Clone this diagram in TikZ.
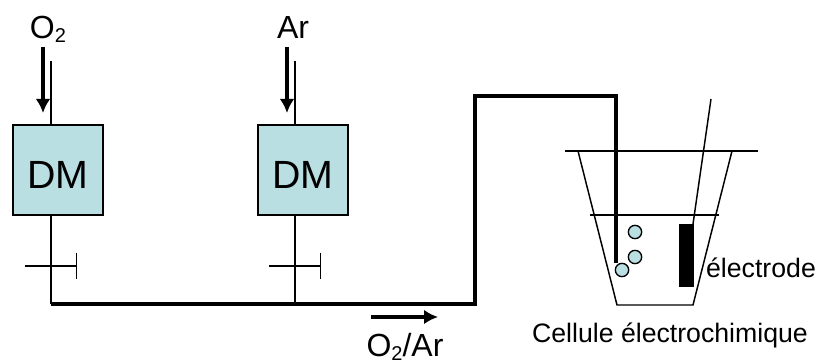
\documentclass[tikz,border=0pt]{standalone}
\usepackage{fontspec}
\setmainfont{Liberation Sans}
\usetikzlibrary{positioning,arrows.meta}

\definecolor{dmfill}{HTML}{B9DFE2}
\newcommand{\subtwo}{\raisebox{-0.25ex}{\fontsize{15}{15}\selectfont 2}}

\begin{document}
\begin{tikzpicture}[
		x=0.75pt,
		y=-0.75pt,
		>={Latex[length=10.5pt,width=11pt]},
		dmbox/.style={
			draw,
			fill=dmfill,
			line width=1.1pt,
			minimum width=67.5pt,
			minimum height=67.5pt,
			inner sep=0pt,
			text height=28.5pt,
			text depth=0pt,
			font=\fontsize{29.5}{34}\selectfont
		},
		gaslabel/.style={
			inner sep=0pt,
			font=\fontsize{24}{28}\selectfont
		},
		celllabel/.style={
			inner sep=0pt,
			font=\fontsize{20}{24}\selectfont
		},
		pipe/.style={line width=1.1pt},
		mainpipe/.style={line width=2.5pt},
		flow/.style={->,line width=2.5pt},
		bubble/.style={
			draw,
			circle,
			fill=dmfill,
			line width=1pt,
			minimum size=10pt,
			inner sep=0pt
		}
		]
		\useasboundingbox (0,0) rectangle (817,363);
		
		%--------------------------------------------------
		% Nodes
		%--------------------------------------------------
		
		\node (dmO) [dmbox] at (58,170) {DM};
		
		\node (dmAr) [dmbox, right=115pt of dmO] {DM};
		
		\node (labelO) [gaslabel] at (48,29) {O\subtwo};
		
		\node (labelAr) [gaslabel] at (293,27) {Ar};
		
		\node (labelMix) [gaslabel] at (405,347) {O\subtwo/Ar};
		
		\node (labelElec) [celllabel] at (761,268) {électrode};
		
		\node (labelCell) [celllabel] at (670,335) {Cellule électrochimique};
		
		\node (electrode) [draw=black, fill=black, inner sep=0pt, minimum width=10.5pt, minimum height=46.5pt] at (686.5,255.5) {};
		
		%--------------------------------------------------
		% Coordinates
		%--------------------------------------------------
		
		\coordinate (inO) at (51,61);
		\coordinate (inAr) at (295,61);
		\coordinate (busO) at (51,304);
		\coordinate (busAr) at (295,304);
		\coordinate (riseB) at (475,304);
		\coordinate (riseT) at (475,96);
		\coordinate (dropT) at (616,96);
		\coordinate (dropB) at (616,263);
		
		\coordinate (valveOl) at (25,266);
		\coordinate (valveOr) at (77,266);
		\coordinate (valveArl) at (269,266);
		\coordinate (valveArr) at (321,266);
		
		\coordinate (arrowOa) at (43,47);
		\coordinate (arrowOb) at (43,113);
		\coordinate (arrowAra) at (287,47);
		\coordinate (arrowArb) at (287,113);
		\coordinate (arrowMixa) at (371,317);
		\coordinate (arrowMixb) at (438,317);
		
		\coordinate (rimL) at (565,151);
		\coordinate (rimR) at (758,151);
		\coordinate (wallLt) at (578,151);
		\coordinate (wallLb) at (617,305);
		\coordinate (wallRb) at (693,305);
		\coordinate (wallRt) at (732,151);
		\coordinate (liquidL) at (590,215);
		\coordinate (liquidR) at (719,215);
		\coordinate (wireT) at (711,99);
		\coordinate (wireB) at (693,224);
		
		%--------------------------------------------------
		% Connections
		%--------------------------------------------------
		
		\draw[pipe] (inO) -- (inO |- dmO.north);
		
		\draw[pipe] (inAr) -- (inAr |- dmAr.north);
		
		\draw[pipe] (busO |- dmO.south) -- (busO);
		
		\draw[pipe] (busAr |- dmAr.south) -- (busAr);
		
		\draw[pipe,-{Bar[width=19.5pt,line width=1.1pt]}] (valveOl) -- (valveOr);
		
		\draw[pipe,-{Bar[width=19.5pt,line width=1.1pt]}] (valveArl) -- (valveArr);
		
		\draw[mainpipe,line join=miter] (busO) -- (riseB) -- (riseT) -- (dropT) -- (dropB);
		
		\draw[flow] (arrowOa) -- (arrowOb);
		
		\draw[flow] (arrowAra) -- (arrowArb);
		
		\draw[flow] (arrowMixa) -- (arrowMixb);
		
		%--------------------------------------------------
		% Cell
		%--------------------------------------------------
		
		\draw[pipe] (rimL) -- (rimR);
		
		\draw[pipe] (wallLt) -- (wallLb) -- (wallRb) -- (wallRt);
		
		\draw[pipe] (liquidL) -- (liquidR);
		
		\draw[pipe] (wireT) -- (wireB);
		
		\node (bubbleA) [bubble] at (635,232) {};
		
		\node (bubbleB) [bubble] at (635,257) {};
		
		\node (bubbleC) [bubble] at (622,270) {};
		
	\end{tikzpicture}
\end{document}
